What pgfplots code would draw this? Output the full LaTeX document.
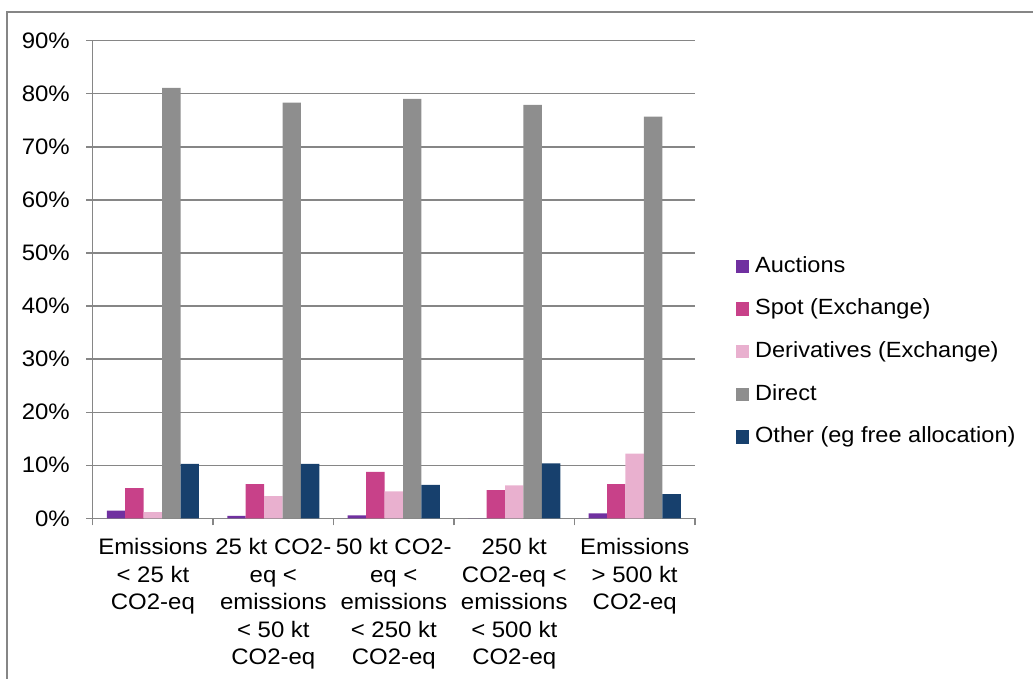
\documentclass[border=0pt]{standalone}
\usepackage{fontspec}
\setmainfont[FakeStretch=1.07]{Liberation Sans}
\usepackage{pgfplots}
\pgfplotsset{compat=1.18}
\definecolor{cAuc}{RGB}{112,48,160}
\definecolor{cSpot}{RGB}{200,65,137}
\definecolor{cDer}{RGB}{233,176,207}
\definecolor{cDir}{RGB}{142,142,142}
\definecolor{cOth}{RGB}{23,64,109}
\definecolor{gridc}{RGB}{134,134,134}
\begin{document}
\begin{tikzpicture}
\useasboundingbox (0,0) rectangle (774.75pt,509.25pt);
\draw[gridc, line width=1pt] (5.25pt,0pt) -- (5.25pt,500.25pt) -- (774.75pt,500.25pt);
\begin{axis}[
  at={(69.5pt,120.5pt)}, anchor=south west,
  scale only axis, width=451.7pt, height=358.2pt,
  ybar=0pt, bar width=0.153,
  xmin=-0.5, xmax=4.5, ymin=0, ymax=90,
  axis x line*=bottom, axis y line*=left,
  axis line style={gridc, line width=1.1pt},
  ytick={0,10,...,90},
  /pgf/number format/assume math mode=true,
  yticklabel={\pgfmathprintnumber{\tick}\%},
  ymajorgrids, grid style={gridc, line width=1pt},
  xtick={0,...,4},
  minor xtick={-0.5,0.5,...,4.5},
  major x tick style={draw=none},
  minor x tick style={gridc, line width=1pt},
  y tick style={gridc, line width=1pt},
  tick align=outside,
  major tick length=5pt, minor tick length=5.25pt,
  xticklabels={{Emissions\\< 25 kt\\CO2-eq},{25 kt CO2-\\eq <\\emissions\\< 50 kt\\CO2-eq},{50 kt CO2-\\eq <\\emissions\\< 250 kt\\CO2-eq},{250 kt\\CO2-eq <\\emissions\\< 500 kt\\CO2-eq},{Emissions\\> 500 kt\\CO2-eq}},
  xticklabel style={align=center, font=\fontsize{16.8}{20.6}\selectfont, anchor=north, inner sep=0pt, yshift=-10pt},
  yticklabel style={font=\fontsize{16.8}{20}\selectfont, anchor=east, inner sep=0pt, xshift=-12pt},
  legend style={at={(rel axis cs:1.068,0.349)}, anchor=west, draw=none, fill=none,
    inner xsep=0pt, inner ysep=0pt, row sep=16pt, column sep=4.5pt,
    font=\fontsize{16.5}{20}\selectfont,
    nodes={inner sep=0pt, text height=12.5pt, text depth=3.5pt}},
  legend cell align=left,
  legend image code/.code={\fill[#1] (0pt,-4.9pt) rectangle (9.75pt,4.9pt);},
  clip=false,
]
\addplot[fill=cAuc, draw=none] coordinates {(0,1.44) (1,0.44) (2,0.56) (3,0) (4,0.94)};
\addplot[fill=cSpot, draw=none] coordinates {(0,5.69) (1,6.44) (2,8.75) (3,5.31) (4,6.44)};
\addplot[fill=cDer, draw=none] coordinates {(0,1.19) (1,4.19) (2,5.06) (3,6.19) (4,12.19)};
\addplot[fill=cDir, draw=none] coordinates {(0,81.14) (1,78.35) (2,79.05) (3,77.9) (4,75.7)};
\addplot[fill=cOth, draw=none] coordinates {(0,10.25) (1,10.25) (2,6.31) (3,10.38) (4,4.56)};
\legend{Auctions, Spot (Exchange), Derivatives (Exchange), Direct, Other (eg free allocation)}
\end{axis}
\end{tikzpicture}
\end{document}
